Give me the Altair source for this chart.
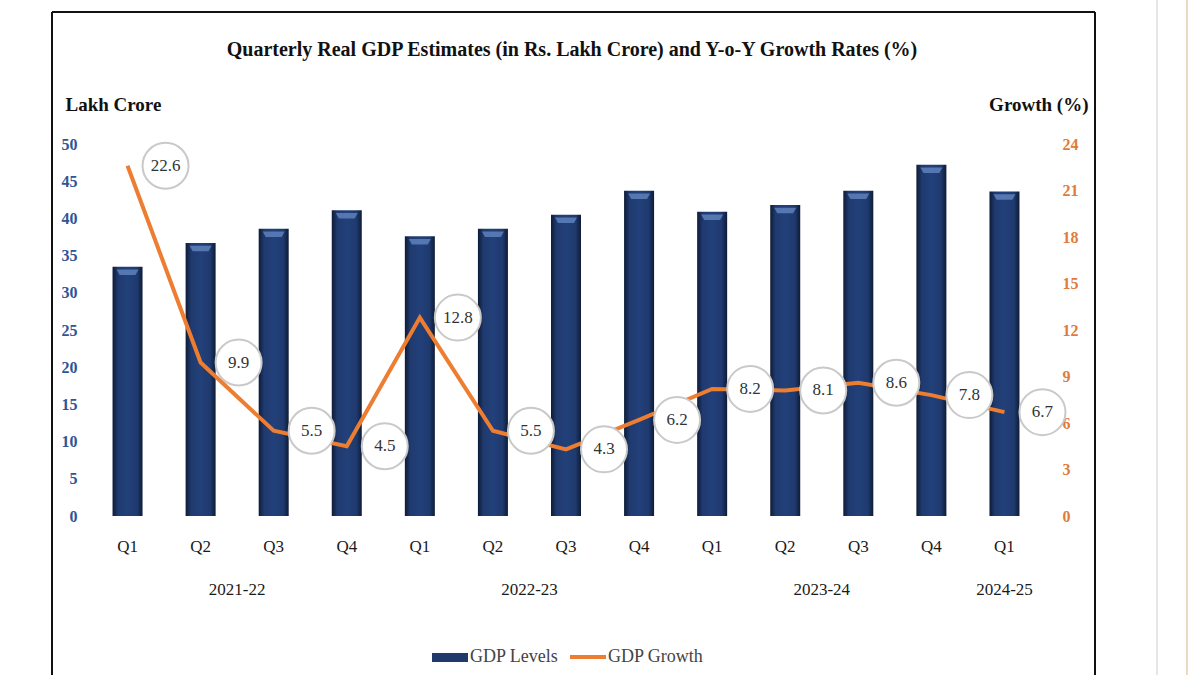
import altair as alt
import pandas as pd

# ---------------- data ----------------
quarters = ["Q1", "Q2", "Q3", "Q4", "Q1", "Q2", "Q3", "Q4", "Q1", "Q2", "Q3", "Q4", "Q1"]
years = ["2021-22"] * 4 + ["2022-23"] * 4 + ["2023-24"] * 4 + ["2024-25"]
gdp_levels = [33.5, 36.7, 38.6, 41.1, 37.6, 38.6, 40.5, 43.7, 40.9, 41.8, 43.7, 47.2, 43.6]
gdp_growth = [22.6, 9.9, 5.5, 4.5, 12.8, 5.5, 4.3, 6.2, 8.2, 8.1, 8.6, 7.8, 6.7]
year_labels = ["2021-22", "2022-23", "2023-24", "2024-25"]
title_text = "Quarterly Real GDP Estimates (in Rs. Lakh Crore) and Y-o-Y Growth Rates (%)"

keys = [f"{y} {q}" for y, q in zip(years, quarters)]
df = pd.DataFrame({"key": keys, "year": years, "quarter": quarters,
                   "gdp": gdp_levels, "growth": gdp_growth,
                   "label": [f"{v:.1f}" for v in gdp_growth]})

# year label anchors: centre of the quarters in each year
full_rows, single_rows = [], []
for y in year_labels:
    ks = [k for k, yy in zip(keys, years) if yy == y]
    if len(ks) % 2 == 0:
        full_rows.append({"key": ks[len(ks) // 2], "year": y})
    else:
        single_rows.append({"key": ks[len(ks) // 2], "year": y})

SERIF = "Liberation Serif"
NAVY = "#203A6C"
ORANGE = "#ED7D31"
W, H = 950, 372
LABEL_DX = 38      # label bubble offset to the right of each point (px)
BUBBLE_R = 23      # bubble radius (px)

xscale = alt.Scale(domain=keys, paddingInner=0, paddingOuter=0)
x_axis = alt.Axis(title=None, labelExpr="split(datum.value, ' ')[1]", ticks=False,
                  domain=False, labelAngle=0, labelFont=SERIF, labelFontSize=17,
                  labelColor="#1a1a1a", labelPadding=22, grid=False)


def X(**kw):
    return alt.X("key:N", scale=xscale, axis=x_axis, **kw)


base = alt.Chart(df)

bar_grad = alt.LinearGradient(
    gradient="linear", x1=0, x2=1, y1=0, y2=0,
    stops=[alt.GradientStop(color="#0E1B36", offset=0),
           alt.GradientStop(color="#1F3A6E", offset=0.18),
           alt.GradientStop(color="#22407A", offset=0.5),
           alt.GradientStop(color="#1F3A6E", offset=0.82),
           alt.GradientStop(color="#0E1B36", offset=1)])

left_axis = alt.Axis(orient="left", values=list(range(0, 51, 5)), ticks=False,
                     domain=False, grid=False, labelColor="#2F5597",
                     labelFont=SERIF, labelFontSize=16, labelFontWeight="bold",
                     labelPadding=14, title="Lakh Crore", titleAngle=0,
                     titleX=-26, titleY=-40, titleAlign="left",
                     titleBaseline="middle", titleFont=SERIF, titleFontSize=19,
                     titleFontWeight="bold", titleColor="#111111")
y_left = alt.Y("gdp:Q", scale=alt.Scale(domain=[0, 50]), axis=left_axis)

bars = base.mark_bar(size=30, color=bar_grad).encode(x=X(), y=y_left)
cap = base.mark_point(filled=True, color="#5B7DB8", opacity=0.9, size=484,
                      shape="M-1,0.25 L1,0.25 L0.72,0.75 L-0.72,0.75 Z").encode(
    x=X(), y=y_left)
bar_layer = alt.layer(bars, cap)

right_axis = alt.Axis(orient="right", values=list(range(0, 25, 3)), ticks=False,
                      domain=False, grid=False, labelColor="#E07B39",
                      labelFont=SERIF, labelFontSize=16, labelFontWeight="bold",
                      labelPadding=21, labelAlign="left", title="Growth (%)",
                      titleAngle=0, titleX=47, titleY=-40, titleAlign="right",
                      titleBaseline="middle", titleFont=SERIF, titleFontSize=19,
                      titleFontWeight="bold", titleColor="#111111")
y_right = alt.Y("growth:Q", scale=alt.Scale(domain=[0, 24]), axis=right_axis)

# bubble shape: circle of radius BUBBLE_R centred LABEL_DX px right of the point
k = 10.0  # symbol unit (size 400 -> 10 px per unit)
cx, r = LABEL_DX / k, BUBBLE_R / k
bubble_path = (f"M{cx + r:.3f},0 A{r:.3f},{r:.3f} 0 1,1 {cx - r:.3f},0 "
               f"A{r:.3f},{r:.3f} 0 1,1 {cx + r:.3f},0 Z")

line = base.mark_line(color=ORANGE, strokeWidth=4).encode(x=X(), y=y_right)
circles = base.mark_point(filled=True, fill="white", stroke="#C9C9C9", strokeWidth=2,
                          size=400, opacity=1, shape=bubble_path).encode(
    x=X(), y=y_right)
labels = base.mark_text(font=SERIF, fontSize=17, color="#333333", dx=LABEL_DX,
                        baseline="middle").encode(x=X(), y=y_right, text="label:N")
growth_layer = alt.layer(line, circles, labels)

# year labels under the quarter labels
yr_full = alt.Chart(pd.DataFrame(full_rows)).mark_text(
    font=SERIF, fontSize=17, color="#1a1a1a", baseline="middle").encode(
    x=X(bandPosition=0), y=alt.value(H + 74), text="year:N")
yr_single = alt.Chart(pd.DataFrame(single_rows)).mark_text(
    font=SERIF, fontSize=17, color="#1a1a1a", baseline="middle").encode(
    x=X(bandPosition=0.5), y=alt.value(H + 74), text="year:N")

one = alt.Chart(pd.DataFrame({"t": [title_text]}))
title = one.mark_text(font=SERIF, fontSize=20, fontWeight="bold", color="#111111",
                      baseline="middle").encode(
    x=alt.value(481), y=alt.value(-94), text="t:N")

# legend
leg_rect = one.mark_rect(color=NAVY).encode(
    x=alt.value(341), x2=alt.value(377), y=alt.value(509), y2=alt.value(518))
leg_t1 = one.mark_text(font=SERIF, fontSize=18, color="#444444", align="left",
                       baseline="middle", text="GDP Levels").encode(
    x=alt.value(379), y=alt.value(513))
leg_line = one.mark_rule(color=ORANGE, strokeWidth=4).encode(
    x=alt.value(479), x2=alt.value(515), y=alt.value(513))
leg_t2 = one.mark_text(font=SERIF, fontSize=18, color="#444444", align="left",
                       baseline="middle", text="GDP Growth").encode(
    x=alt.value(517), y=alt.value(513))

# frame of the screenshot
frame_l = one.mark_rule(color="#111111", strokeWidth=2).encode(
    x=alt.value(-39), y=alt.value(-132), y2=alt.value(540))
frame_t = one.mark_rule(color="#111111", strokeWidth=2).encode(
    x=alt.value(-39), x2=alt.value(1004), y=alt.value(-132))
frame_r = one.mark_rule(color="#111111", strokeWidth=2).encode(
    x=alt.value(1004), y=alt.value(-132), y2=alt.value(540))
side_1 = one.mark_rule(color="#E6E6E6", strokeWidth=2).encode(
    x=alt.value(1066), y=alt.value(-150), y2=alt.value(540))
side_2 = one.mark_rule(color="#EBD9C4", strokeWidth=2).encode(
    x=alt.value(1096), y=alt.value(-150), y2=alt.value(540))

chart = alt.layer(
    bar_layer, growth_layer, yr_full, yr_single, title,
    leg_rect, leg_t1, leg_line, leg_t2,
    frame_l, frame_t, frame_r, side_1, side_2
).resolve_scale(y="independent").properties(
    width=W, height=H,
    autosize=alt.AutoSizeParams(type="none"),
    padding={"left": 91, "top": 144, "right": 159, "bottom": 159},
    background="white",
).configure_view(stroke=None)

chart.save("out.html", embed_options={"renderer": "svg", "actions": False})
